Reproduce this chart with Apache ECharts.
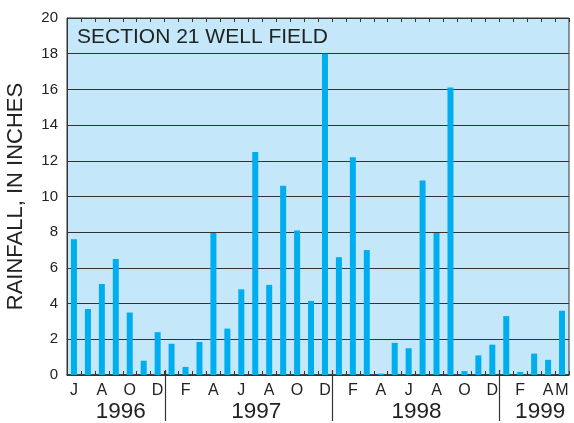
<!DOCTYPE html>
<html><head><meta charset="utf-8">
<script src="https://cdn.jsdelivr.net/npm/echarts@6/dist/echarts.min.js"></script>
<style>html,body{margin:0;padding:0;background:#fff}#c{width:574px;height:423px}</style>
</head><body><div id="c"></div>
<script>
const months = ['Jun96','Jul96','Aug96','Sep96','Oct96','Nov96','Dec96',
 'Jan97','Feb97','Mar97','Apr97','May97','Jun97','Jul97','Aug97','Sep97','Oct97','Nov97','Dec97',
 'Jan98','Feb98','Mar98','Apr98','May98','Jun98','Jul98','Aug98','Sep98','Oct98','Nov98','Dec98',
 'Jan99','Feb99','Mar99','Apr99','May99'];
const monthLabels = ['J','','A','','O','','D',
 '','F','','A','','J','','A','','O','','D',
 '','F','','A','','J','','A','','O','','D',
 '','F','','A','M'];
const rainfall = [7.6,3.7,5.1,6.5,3.5,0.8,2.4,
 1.75,0.45,1.85,7.95,2.6,4.8,12.5,5.05,10.6,8.1,4.15,18.0,
 6.6,12.2,7.0,0.08,1.8,1.5,10.9,7.95,16.1,0.22,1.1,1.7,
 3.3,0.17,1.2,0.85,3.6];
const years = ['1996','1997','1998','1999'];
const yearStart = [0,7,19,31];
const yearEnd = [6,18,30,35];
const yTicks = [0,2,4,6,8,10,12,14,16,18,20];

const FONT = '"Liberation Sans", Arial, Helvetica, sans-serif';
const chart = echarts.init(document.getElementById('c'), null, {renderer:'canvas'});
const option = {
  animation:false,
  grid:{left:67,right:5,top:18,bottom:48,containLabel:false,outerBoundsMode:'none',
    show:true,backgroundColor:'#c4e8f9',borderColor:'#333',borderWidth:1},
  xAxis:[{
    type:'category', data:months, position:'bottom',
    axisLine:{show:true,lineStyle:{color:'#333',width:1.5}},
    axisTick:{show:true,inside:true,length:4,interval:0,lineStyle:{color:'#333'}},
    axisLabel:{interval:0,margin:8,fontSize:16,color:'#222',fontFamily:FONT,
      formatter:(v,i)=>monthLabels[i]}
  },{
    type:'category', data:months, position:'top',
    axisLine:{show:false},
    axisTick:{show:true,inside:true,length:4,interval:0,lineStyle:{color:'#333'}},
    axisLabel:{show:false}
  }],
  yAxis:{
    type:'value', min:yTicks[0], max:yTicks[yTicks.length-1], interval:2,
    name:'RAINFALL, IN INCHES', nameLocation:'middle', nameGap:40,
    nameTextStyle:{fontSize:22,color:'#222',fontFamily:FONT},
    axisLine:{show:true,lineStyle:{color:'#333'}},
    axisTick:{show:false},
    axisLabel:{fontSize:15,color:'#222',fontFamily:FONT,margin:9},
    splitLine:{show:true,lineStyle:{color:'#333',width:1.2}}
  },
  series:[{type:'bar',data:rainfall,barWidth:6,itemStyle:{color:'#00aeef'},xAxisIndex:0}]
};
chart.setOption(option);

function layoutExtras(){
  const g = [];
  g.push({type:'text',left:77,top:27,style:{text:'SECTION 21 WELL FIELD',fontSize:21,fill:'#222',fontFamily:FONT}});
  const y0 = chart.convertToPixel({yAxisIndex:0},0);
  for(let k=0;k<years.length;k++){
    const xs = chart.convertToPixel({xAxisIndex:0},months[yearStart[k]]);
    const xe = chart.convertToPixel({xAxisIndex:0},months[yearEnd[k]]);
    const half = (chart.convertToPixel({xAxisIndex:0},months[1]) - chart.convertToPixel({xAxisIndex:0},months[0]))/2;
    const cx = (xs+xe)/2 + (k===0?5:(k===1?8:(k===3?6:1)));
    g.push({type:'text',x:cx,y:y0+37,style:{text:years[k],fontSize:22.5,fill:'#222',fontFamily:FONT,align:'center',verticalAlign:'middle'}});
    if(k>0){
      const bx = Math.round(xs-half)+0.5;
      g.push({type:'line',shape:{x1:bx,y1:y0-5,x2:bx,y2:y0+46},style:{stroke:'#333',lineWidth:1.2}});
    }
  }
  chart.setOption({graphic:g});
}
layoutExtras();
</script></body></html>
